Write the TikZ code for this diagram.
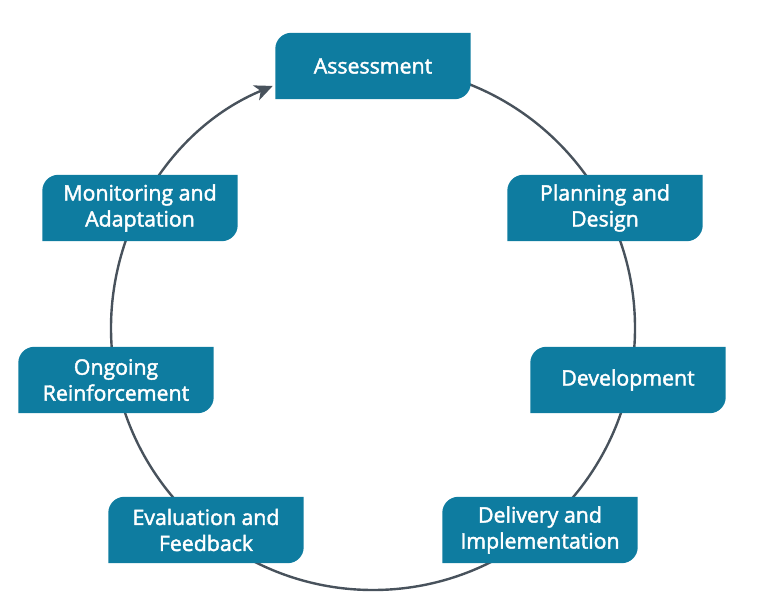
\documentclass[tikz,border=0pt]{standalone}
\usepackage{fontspec}
\setmainfont{Open Sans}
\newfontfamily\boxfont[FakeBold=2]{Open Sans}
\usetikzlibrary{arrows.meta, backgrounds}
\definecolor{boxteal}{HTML}{0E7CA0}
\definecolor{ringgray}{HTML}{48525C}
\tikzset{
  stage/.style={
    minimum width=195pt, minimum height=66pt,
    text centered, align=center, text=white,
    font=\boxfont\fontsize{21.3}{26}\selectfont,
  },
  ring/.style={line width=2.4pt, color=ringgray},
  ringarrow/.style={-{Stealth[length=18pt, width=16pt, inset=5pt]}},
}
\newcommand{\leafbox}[1]{%
  \fill[boxteal] (#1.north east) -- ([yshift=16pt]#1.south east)
    arc[start angle=0, end angle=-90, radius=16pt] -- (#1.south west)
    -- ([yshift=-16pt]#1.north west)
    arc[start angle=180, end angle=90, radius=16pt] -- cycle;}

\begin{document}
\begin{tikzpicture}[x=1pt, y=1pt]
  \useasboundingbox (0,0) rectangle (759,611);

  \coordinate (hub) at (373,283);
  \node[stage] (assess)   at (373,545) {Assessment};
  \node[stage] (plan)     at (605,403) {Planning and\\Design};
  \node[stage] (develop)  at (628,231) {Development};
  \node[stage] (deliver)  at (540,81)  {Delivery and\\Implementation};
  \node[stage] (evaluate) at (206,81)  {Evaluation and\\Feedback};
  \node[stage] (ongoing)  at (116,231) {Ongoing\\Reinforcement};
  \node[stage] (monitor)  at (140,403) {Monitoring and\\Adaptation};

  \begin{scope}[on background layer]
    % the cycle ring, ending in the arrow at Assessment
    \draw[ring, ringarrow] (assess.center)
      arc[start angle=90, end angle=-247.5, radius=262];
    \foreach \n in {assess, plan, develop, deliver, evaluate, ongoing, monitor}
      \leafbox{\n};
  \end{scope}

\end{tikzpicture}
\end{document}
